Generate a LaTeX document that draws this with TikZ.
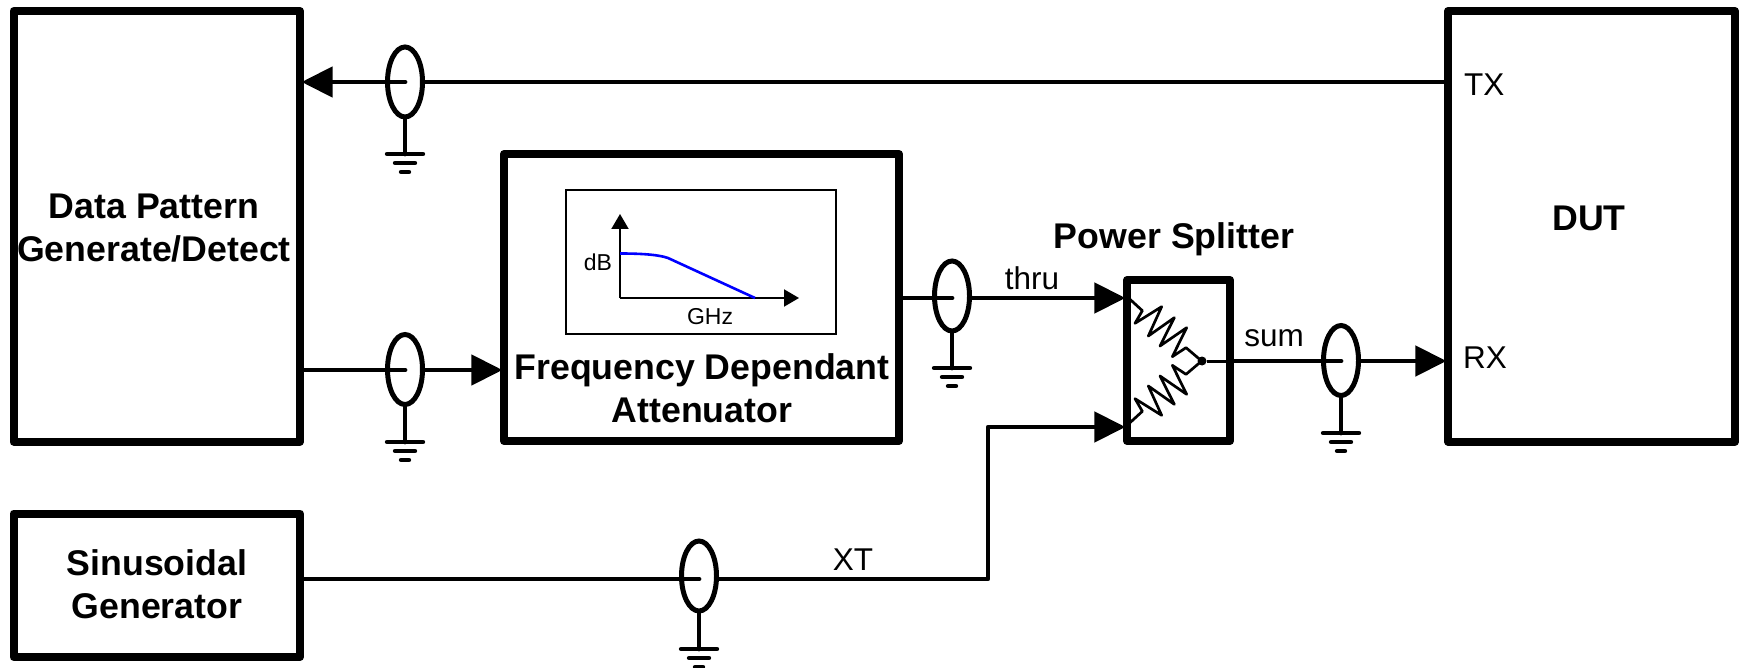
\documentclass[tikz,border=0pt]{standalone}
\usepackage{fontspec}
\setmainfont{Liberation Sans}
\usetikzlibrary{arrows.meta,shapes.geometric,calc}
\newcommand{\coax}[5]{%
  \coordinate (#1) at (#2,#3);
  \node[coaxring] (#1r) at (#2,#5) {};
  \coordinate (#1g) at (#2,#4);
  \draw[sigline] (#1r.south) -- (#1g);
  \draw[gndbar] ([xshift=-18pt]#1g) -- ([xshift=18pt]#1g);
  \draw[gndbar] ([shift={(-10pt,-9pt)}]#1g) -- ([shift={(10pt,-9pt)}]#1g);
  \draw[gndbar] ([shift={(-4pt,-18pt)}]#1g) -- ([shift={(4pt,-18pt)}]#1g);
}
\tikzset{
  block/.style={draw,line width=8pt,line join=round,inner sep=0pt},
  coaxring/.style={draw,ellipse,line width=5pt,minimum width=35pt,minimum height=70pt,inner sep=0pt},
  sigline/.style={line width=4.8pt,line cap=round,line join=round},
  sigarrow/.style={sigline,shorten >=-2.4pt,-{Triangle[length=31pt,width=30pt]}},
  gndbar/.style={line width=4.4pt,line cap=round},
  boldtext/.style={font=\fontsize{35.7pt}{43pt}\selectfont\bfseries,align=center,inner sep=0pt},
  labeltext/.style={font=\fontsize{31.5pt}{36pt}\selectfont,anchor=base,inner sep=0pt},
  smalltext/.style={font=\fontsize{23pt}{27pt}\selectfont,anchor=base,inner sep=0pt},
  plotaxis/.style={line width=2pt,-{Triangle[length=15pt,width=17pt]}},
  resistor/.style={line width=2.7pt,line join=round,line cap=round},
}
\begin{document}
\begin{tikzpicture}[x=1pt,y=-1pt]
\useasboundingbox (0,0) rectangle (1742,668);
% blocks
\node[block,minimum width=286.5pt,minimum height=430.5pt] (dp) at (156.75,226.25) {};
\node[block,minimum width=286.5pt,minimum height=143.5pt] (sg) at (156.75,585.25) {};
\node[block,minimum width=395pt,minimum height=287pt] (fa) at (701.5,297.5) {};
\node[block,minimum width=103pt,minimum height=161pt] (ps) at (1178.5,360.5) {};
\node[block,minimum width=287pt,minimum height=430.5pt] (dut) at (1591.5,226.25) {};
% block texts
\node[boldtext] (dpt) at (154,228) {Data Pattern\\Generate/Detect};
\node[boldtext] (sgt) at (157,584) {Sinusoidal\\Generator};
\node[boldtext] (fat) at (702,388) {Frequency Dependant\\Attenuator};
\node[boldtext,anchor=base] (pst) at (1174,249) {Power Splitter};
\node[boldtext,anchor=base] (dutt) at (1589,231) {DUT};
% coax symbols
\coax{c1}{405}{82}{154}{82}
\coax{c2}{405}{370}{442}{369.5}
\coax{c3}{952}{298}{368}{296}
\coax{c4}{1341}{361}{433}{360.5}
\coax{c5}{699}{579}{649}{576}
% connectors
\draw[sigline] (c1r.east |- c1) -- (c1 -| dut.west);
\draw[sigarrow] (c1) -- (c1 -| dp.east);
\draw[sigline] (c2 -| dp.east) -- (c2);
\draw[sigarrow] (c2r.east |- c2) -- (c2 -| fa.west);
\draw[sigline] (c3 -| fa.east) -- (c3);
\draw[sigarrow] (c3r.east |- c3) -- (c3 -| ps.west);
\draw[sigline] (c4 -| ps.east) -- (c4);
\draw[sigarrow] (c4r.east |- c4) -- (c4 -| dut.west);
\draw[sigline] (c5 -| sg.east) -- (c5);
\coordinate (xtin) at (1123,427);
\coordinate (xtbend) at (988,427);
\draw[sigarrow] (c5r.east |- c5) -- (c5 -| xtbend) -- (xtbend) -- (xtin);
% labels
\node[labeltext] (thru) at (1032,289) {thru};
\node[labeltext] (sum) at (1274,346) {sum};
\node[labeltext] (xt) at (853,570) {XT};
\node[labeltext,anchor=base west] (tx) at (1464,96) {TX};
\node[labeltext,anchor=base west] (rx) at (1463,368) {RX};
% attenuator plot
\node[draw,line width=2.2pt,minimum width=270pt,minimum height=144pt,inner sep=0pt] (plot) at (701,262) {};
\coordinate (org) at (620,298);
\draw[plotaxis] (org) -- (620,214);
\draw[plotaxis] (org) -- (799,298);
\draw[blue,line width=2.6pt] (620,253.5) .. controls (640,253.5) and (658,254.5) .. (668,258) -- (755,298);
\node[smalltext] (db) at (598,270) {dB};
\node[smalltext] (ghz) at (710,324) {GHz};
% splitter resistors
\node[circle,fill,inner sep=0pt,minimum size=9pt] (dot) at (1202,361) {};
\begin{scope}[shift={(1080,260)},x=0.33333pt,y=-0.33333pt]
\draw[resistor] (150,118) -- (187,152) -- (165,190) -- (245,140) -- (205,228) -- (283,173) -- (240,258) -- (320,203) -- (277,290) -- (318,263) -- (365,303);
\draw[resistor] (150,488) -- (187,454) -- (165,416) -- (245,466) -- (205,378) -- (283,433) -- (240,348) -- (320,403) -- (277,316) -- (318,343) -- (365,303);
\end{scope}
\draw[line width=3pt] (dot) -- (dot -| ps.east);
\end{tikzpicture}
\end{document}
